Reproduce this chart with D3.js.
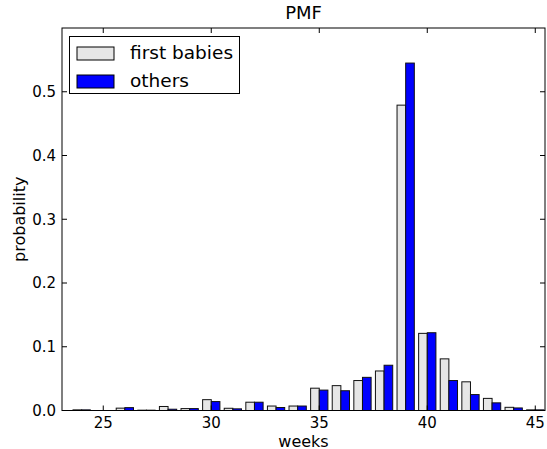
<!DOCTYPE html>
<html>
<head>
<meta charset="utf-8">
<script src="https://cdn.jsdelivr.net/npm/d3@7"></script>
<style>
  html, body { margin: 0; padding: 0; background: #fff; }
  svg { display: block; font-family: "DejaVu Sans", sans-serif; }
</style>
</head>
<body>
<svg id="chart" width="547" height="449"></svg>
<script>
const weeks   = [24, 25, 26, 27, 28, 29, 30, 31, 32, 33, 34, 35, 36, 37, 38, 39, 40, 41, 42, 43, 44, 45];
const firsts  = [0.001, 0, 0.0037, 0.0005, 0.0063, 0.003, 0.017, 0.0035, 0.013, 0.007, 0.007, 0.035, 0.039, 0.047, 0.062, 0.479, 0.121, 0.081, 0.045, 0.019, 0.005, 0.001];
const others  = [0.001, 0, 0.0045, 0.0005, 0.002, 0.003, 0.014, 0.0026, 0.013, 0.0047, 0.007, 0.032, 0.031, 0.052, 0.071, 0.545, 0.122, 0.047, 0.025, 0.012, 0.004, 0.001];
const xTicks  = [25, 30, 35, 40, 45];
const yTicks  = [0.0, 0.1, 0.2, 0.3, 0.4, 0.5];
const seriesNames = ["first babies", "others"];
const seriesColors = ["#e6e6e6", "#0000ff"];

const svg = d3.select("#chart");
const L = 62, R = 545, T = 28, B = 410.5;
const x = d3.scaleLinear().domain([23.09, 45.45]).range([L, R]);
const y = d3.scaleLinear().domain([0, 0.6]).range([B, T]);
const barW = 0.4;

const series = [firsts, others];
series.forEach((vals, si) => {
  svg.append("g").selectAll("rect").data(weeks).join("rect")
    .attr("x", (w) => x(w - barW + si * barW))
    .attr("width", x(barW) - x(0))
    .attr("y", (w, i) => y(vals[i]))
    .attr("height", (w, i) => y(0) - y(vals[i]))
    .attr("fill", seriesColors[si])
    .attr("stroke", "#111")
    .attr("stroke-width", 1);
});

// frame
svg.append("rect").attr("x", L).attr("y", T).attr("width", R - L).attr("height", B - T)
  .attr("fill", "none").attr("stroke", "#000").attr("stroke-width", 1);

const tickLen = 5;
const fs = 15;
// x ticks (bottom & top, inside)
xTicks.forEach(t => {
  const px = x(t);
  svg.append("line").attr("x1", px).attr("x2", px).attr("y1", B).attr("y2", B - tickLen).attr("stroke", "#000");
  svg.append("line").attr("x1", px).attr("x2", px).attr("y1", T).attr("y2", T + tickLen).attr("stroke", "#000");
  svg.append("text").attr("x", px).attr("y", B + 17.5).attr("text-anchor", "middle")
    .attr("font-size", fs).text(d3.format("d")(t));
});
// y ticks (left & right, inside)
yTicks.forEach(t => {
  const py = y(t);
  svg.append("line").attr("x1", L).attr("x2", L + tickLen).attr("y1", py).attr("y2", py).attr("stroke", "#000");
  svg.append("line").attr("x1", R).attr("x2", R - tickLen).attr("y1", py).attr("y2", py).attr("stroke", "#000");
  svg.append("text").attr("x", L - 6).attr("y", py).attr("dy", "0.36em").attr("text-anchor", "end")
    .attr("font-size", fs).text(d3.format(".1f")(t));
});

svg.append("text").attr("x", (L + R) / 2).attr("y", 19).attr("text-anchor", "middle")
  .attr("font-size", 18).text("PMF");
svg.append("text").attr("x", (L + R) / 2).attr("y", 446.5).attr("text-anchor", "middle")
  .attr("font-size", 16).text("weeks");
svg.append("text").attr("transform", `translate(25,${(T + B) / 2}) rotate(-90)`).attr("text-anchor", "middle")
  .attr("font-size", 16).text("probability");

// legend
const lg = svg.append("g");
lg.append("rect").attr("x", 69.5).attr("y", 36.5).attr("width", 170).attr("height", 57)
  .attr("fill", "#fff").attr("stroke", "#000").attr("stroke-width", 1);
seriesNames.forEach((name, i) => {
  const yy = 47 + i * 28;
  lg.append("rect").attr("x", 77).attr("y", yy).attr("width", 37).attr("height", 13)
    .attr("fill", seriesColors[i]).attr("stroke", "#000");
  lg.append("text").attr("x", 130).attr("y", yy + 12).attr("font-size", 18.5).text(name);
});
</script>
</body>
</html>
